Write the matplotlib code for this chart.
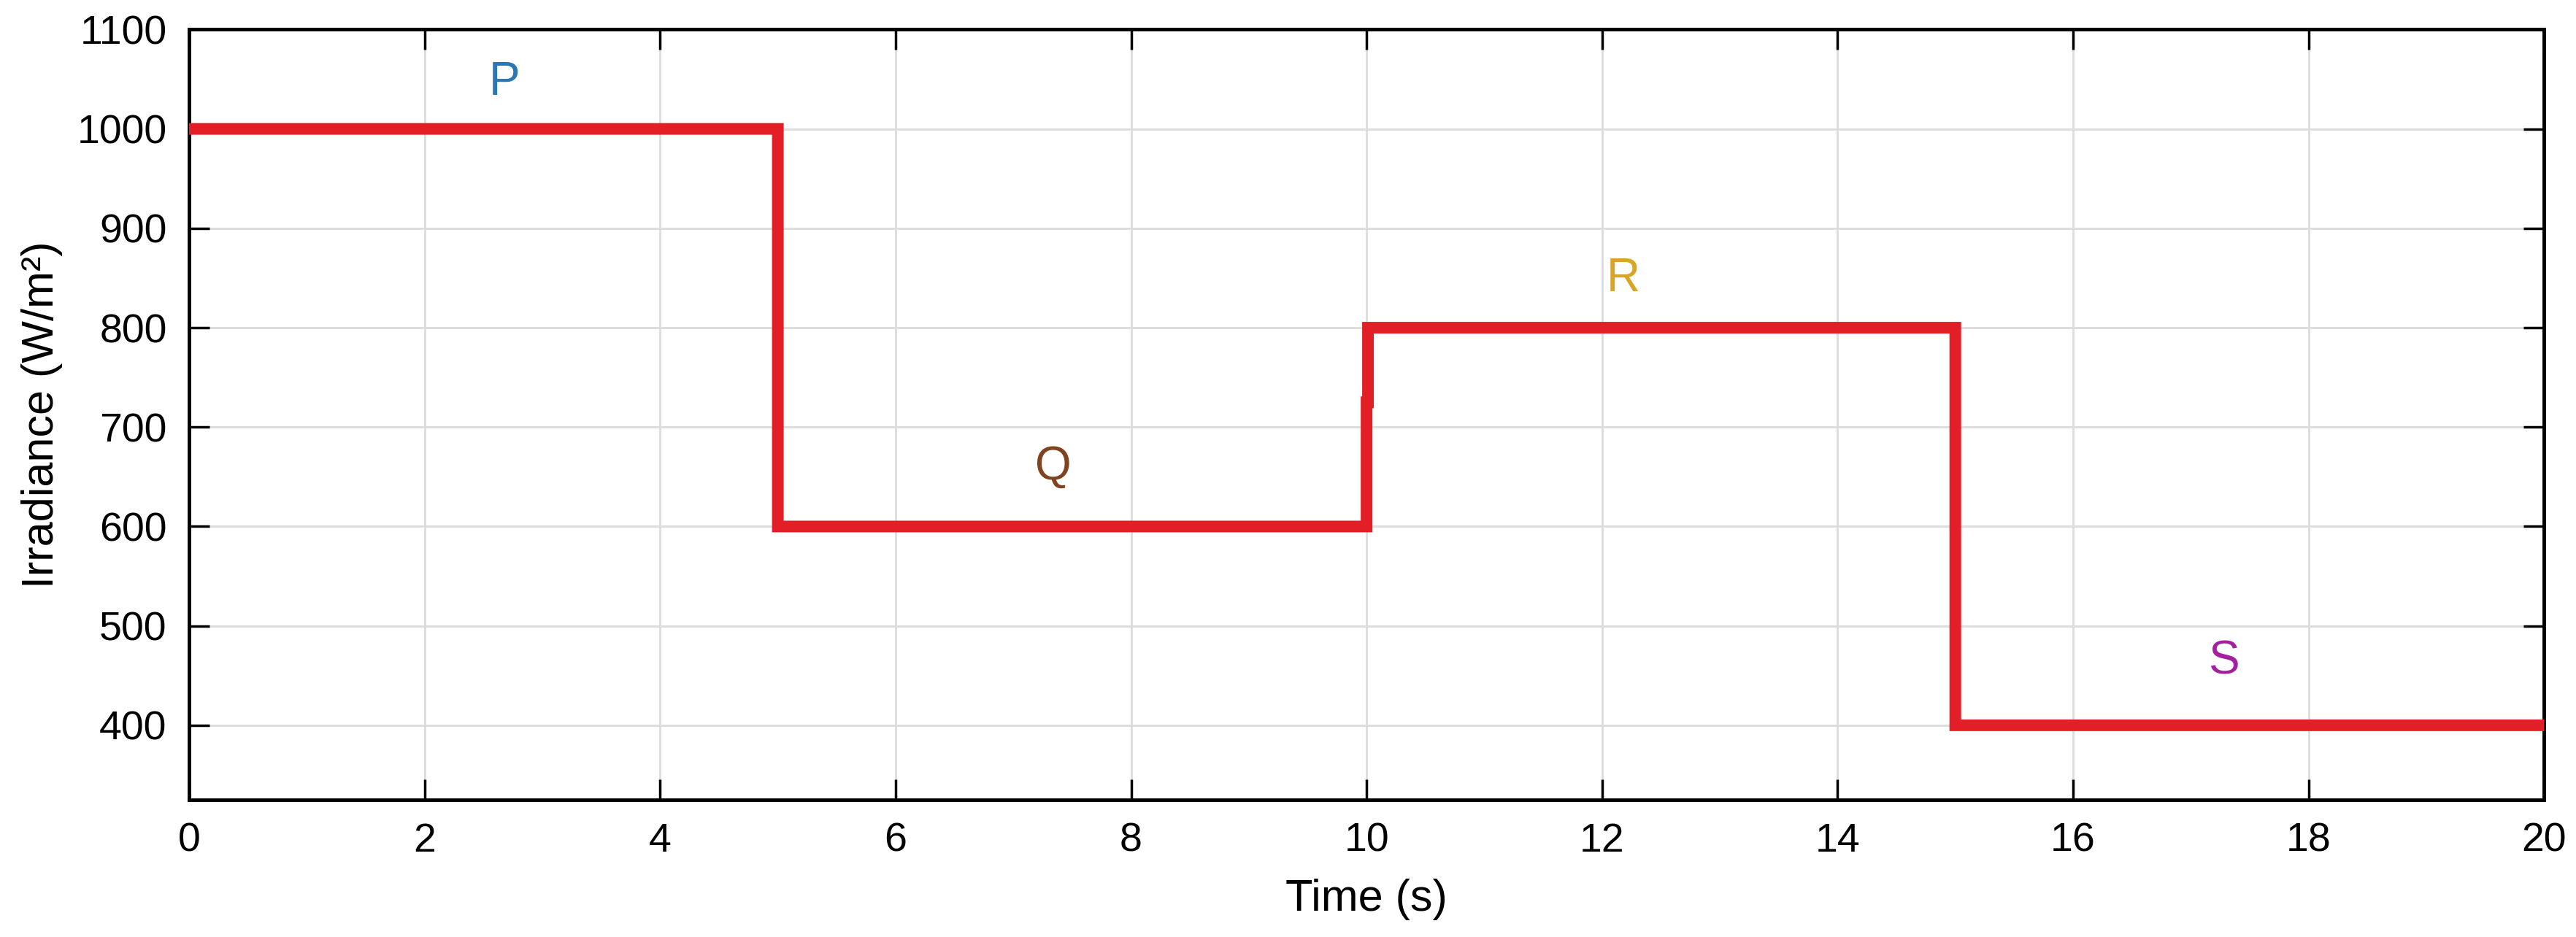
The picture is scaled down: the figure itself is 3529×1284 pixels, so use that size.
import matplotlib.pyplot as plt
import numpy as np

# irradiance profile (step changes, small kink at t=10 from the solver)
time_s = [0, 5, 5, 10, 10, 10.012, 10.012, 15, 15, 20]
irradiance = [1000, 1000, 600, 600, 725, 725, 800, 800, 400, 400]

seg_labels = ['P', 'Q', 'R', 'S']
seg_x = [2.68, 7.34, 12.18, 17.28]
seg_y = [1047, 660, 849, 464]
seg_colors = ['#2A77B4', '#80431F', '#D8A526', '#A3209F']

x_ticks = np.arange(0, 21, 2)
y_ticks = np.arange(400, 1101, 100)

plt.rcParams['font.family'] = ['Liberation Sans', 'DejaVu Sans']

fig = plt.figure(figsize=(35.30, 12.84), dpi=100)
ax = fig.add_axes([0.0734, 0.1464, 0.9139, 0.8221])

ax.plot(time_s, irradiance, color='#E21F26', linewidth=11.5,
        solid_joinstyle='miter', snap=False, zorder=3)

for lab, x, y, c in zip(seg_labels, seg_x, seg_y, seg_colors):
    ax.text(x, y, lab, color=c, fontsize=46, ha='center', va='center', zorder=4)

ax.set_xlim(0, 20)
ax.set_ylim(325, 1100)
ax.set_xticks(x_ticks)
ax.set_yticks(y_ticks)
ax.grid(True, color='#DCDCDC', linewidth=2)
ax.set_axisbelow(True)

ax.tick_params(direction='in', length=20, width=2.5, labelsize=40,
               top=True, right=True, pad=22)
for sp in ax.spines.values():
    sp.set_linewidth(3.5)
    sp.set_color('black')

ax.set_xlabel('Time (s)', fontsize=44, labelpad=18)
ax.set_ylabel('Irradiance (W/m²)', fontsize=44, labelpad=14)

plt.savefig('out.png', dpi=100)
